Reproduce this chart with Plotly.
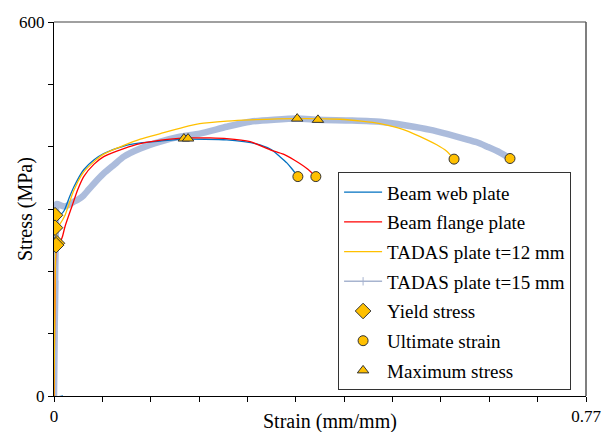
import plotly.graph_objects as go

# ---- data ----
web_strain = [0.013, 0.0, 0.002, 0.005, 0.010, 0.015, 0.022, 0.029, 0.043, 0.058, 0.072, 0.101, 0.125, 0.154, 0.187, 0.25, 0.275, 0.298, 0.315, 0.327, 0.337, 0.344, 0.353]
web_stress = [0, 0, 290, 297, 292, 298, 318, 336, 363, 379, 389, 401, 406, 409, 412, 411, 408, 403, 395, 384, 374, 365, 352]

flange_strain = [0.0, 0.003, 0.004, 0.008, 0.012, 0.016, 0.0265, 0.034, 0.043, 0.058, 0.072, 0.101, 0.125, 0.168, 0.194, 0.226, 0.25, 0.284, 0.313, 0.332, 0.347, 0.366, 0.379]
flange_stress = [0, 238, 242, 245, 255, 272, 306, 330, 352, 372, 384, 397, 405, 412, 414, 414, 413, 408, 395, 388, 379, 365, 352]

t12_strain = [0.0, 0.003, 0.004, 0.008, 0.016, 0.028, 0.042, 0.058, 0.072, 0.101, 0.125, 0.154, 0.187, 0.211, 0.25, 0.284, 0.352, 0.414, 0.445, 0.472, 0.498, 0.520, 0.540, 0.554, 0.568, 0.579]
t12_stress = [0, 262, 270, 275, 290, 328, 358, 376, 388, 402, 412, 421, 431, 437, 441, 443, 445, 444, 441, 437, 430, 421, 411, 403, 393, 380]

t15_strain = [0.0, 0.001, 0.0, 0.002, 0.001, 0.003, 0.004, 0.0097, 0.015, 0.022, 0.029, 0.036, 0.043, 0.050, 0.058, 0.072, 0.087, 0.101, 0.125, 0.154, 0.182, 0.211, 0.25, 0.284, 0.352, 0.382, 0.430, 0.472, 0.510, 0.545, 0.570, 0.593, 0.612, 0.627, 0.645, 0.66]
t15_stress = [0, 100, 40, 180, 120, 290, 308, 306, 304, 307, 312, 316, 322, 331, 341, 357, 371, 384, 397, 408, 416, 421, 432, 440, 445, 443, 442, 440, 434, 427, 420, 413, 407, 400, 391, 381]

yield_strain = [0.0015, 0.0015, 0.0043, 0.003]
yield_stress = [290, 270, 245, 242]

ult_strain = [0.353, 0.379, 0.579, 0.660]
ult_stress = [352, 352, 380, 381]

max_strain = [0.188, 0.194, 0.352, 0.382]
max_stress = [413, 413, 445, 443]

x_tickvals = [round(0.07 * i, 2) for i in range(12)]
x_ticktext = ["0"] + [""] * 10 + ["0.77"]
y_tickvals = [0, 100, 200, 300, 400, 500, 600]
y_ticktext = ["0", "", "", "", "", "", "600"]

FONT = "Liberation Serif"
GOLD = "#FFC000"
EDGE = "#333333"
GREY_BAND = "rgba(158,176,214,0.85)"

fig = go.Figure()

# thick grey band (data), hidden from legend
fig.add_trace(go.Scatter(x=t15_strain, y=t15_stress, mode="lines",
                         line=dict(color=GREY_BAND, width=6.5, shape="spline", smoothing=0.6),
                         showlegend=False, hoverinfo="skip"))

fig.add_trace(go.Scatter(x=web_strain, y=web_stress, mode="lines", name="Beam web plate",
                         line=dict(color="#0070C0", width=1.3, shape="spline", smoothing=0.6), legendgroup="a"))
fig.add_trace(go.Scatter(x=flange_strain, y=flange_stress, mode="lines", name="Beam flange plate",
                         line=dict(color="#FF0000", width=1.3, shape="spline", smoothing=0.6), legendgroup="b"))
fig.add_trace(go.Scatter(x=t12_strain, y=t12_stress, mode="lines", name="TADAS plate t=12 mm",
                         line=dict(color=GOLD, width=1.3, shape="spline", smoothing=0.6), legendgroup="c"))
# legend proxy for the t=15 band
fig.add_trace(go.Scatter(x=[None], y=[None], mode="lines+markers", name="TADAS plate t=15 mm",
                         line=dict(color="#A7B4CF", width=1.5),
                         marker=dict(symbol="line-ns", size=6, line=dict(color="#A7B4CF", width=1)),
                         legendgroup="d"))

mk_line = dict(color=EDGE, width=1)
fig.add_trace(go.Scatter(x=yield_strain, y=yield_stress, mode="markers", name="Yield stress",
                         marker=dict(symbol="diamond", size=12, color=GOLD, line=mk_line), legendgroup="e"))
fig.add_trace(go.Scatter(x=ult_strain, y=ult_stress, mode="markers", name="Ultimate strain",
                         marker=dict(symbol="circle", size=10, color=GOLD, line=mk_line), legendgroup="f"))
fig.add_trace(go.Scatter(x=max_strain, y=max_stress, mode="markers", name="Maximum stress",
                         marker=dict(symbol="triangle-up", size=10, color=GOLD, line=mk_line), legendgroup="g"))

fig.update_layout(
    width=602, height=432,
    margin=dict(l=54, r=16, t=22, b=36, autoexpand=False),
    paper_bgcolor="white", plot_bgcolor="white",
    font=dict(family=FONT, size=17, color="black"),
    showlegend=True,
    legend=dict(x=0.534, y=0.598, xanchor="left", yanchor="top",
                bgcolor="white", bordercolor="#333333", borderwidth=1,
                font=dict(family=FONT, size=19, color="black"),
                tracegroupgap=2, itemwidth=38),
    xaxis=dict(range=[0, 0.77], tickvals=x_tickvals, ticktext=x_ticktext,
               ticks="outside", ticklen=5, tickcolor="black", showgrid=False,
               zeroline=False, showline=True, linecolor="black", linewidth=1,
               automargin=False, tickfont=dict(family=FONT, size=17)),
    yaxis=dict(range=[0, 600], tickvals=y_tickvals, ticktext=y_ticktext,
               ticks="outside", ticklen=5, tickcolor="black", showgrid=False,
               zeroline=False, showline=True, linecolor="black", linewidth=1,
               automargin=False, tickfont=dict(family=FONT, size=17)),
    shapes=[
        dict(type="line", xref="paper", yref="paper", x0=0, x1=1, y0=1, y1=1,
             line=dict(color="#808080", width=1.5)),
        dict(type="line", xref="paper", yref="paper", x0=1, x1=1, y0=0, y1=1,
             line=dict(color="#555555", width=1.5)),
    ],
    annotations=[
        dict(text="Strain (mm/mm)", xref="paper", yref="paper", x=0.519, y=-0.0695,
             xanchor="center", yanchor="middle", showarrow=False,
             font=dict(family=FONT, size=20)),
        dict(text="Stress (MPa)", xref="paper", yref="paper", x=-0.0545, y=0.5,
             xanchor="center", yanchor="middle", showarrow=False, textangle=-90,
             font=dict(family=FONT, size=20)),
    ],
)

fig.write_html("out.html")
